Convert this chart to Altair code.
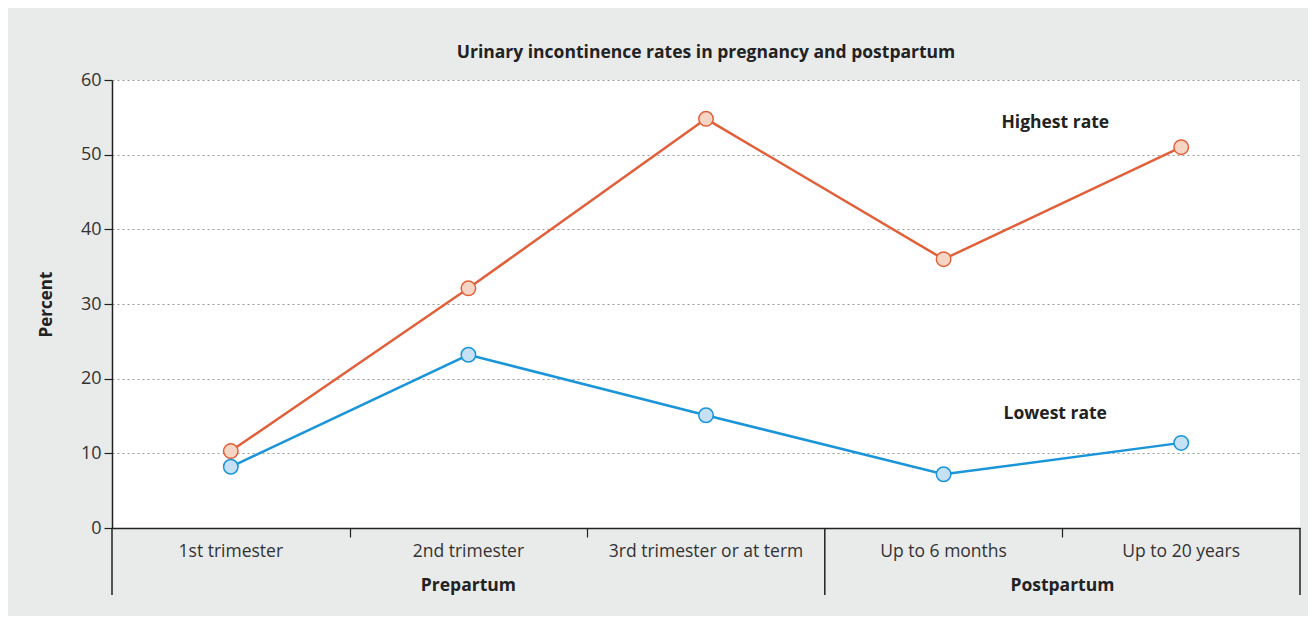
import altair as alt
import pandas as pd

categories = ["1st trimester", "2nd trimester", "3rd trimester or at term", "Up to 6 months", "Up to 20 years"]
highest = [10.3, 32.1, 54.8, 36.0, 51.0]
lowest = [8.2, 23.2, 15.1, 7.2, 11.4]
groups = ["Prepartum", "Postpartum"]
group_pos = [1.5, 4.0]
series_names = ["Highest rate", "Lowest rate"]
annot_x = [3.97, 3.97]
annot_y = [54.2, 15.3]

pos = [i + 0.5 for i in range(len(categories))]
rows = []
for s, vals in zip(series_names, [highest, lowest]):
    for c, p, v in zip(categories, pos, vals):
        rows.append({"series": s, "cat": c, "pos": p, "value": v})
df = pd.DataFrame(rows)
cat_df = pd.DataFrame({"cat": categories, "pos": pos})
grp_df = pd.DataFrame({"grp": groups, "pos": group_pos})
ann_df = pd.DataFrame({"label": series_names, "x": annot_x, "y": annot_y})
long_df = pd.DataFrame({"x": [0, 3, 5]})

FONT = "Open Sans"
W, H = 1188, 448

xs = alt.Scale(domain=[0, 5], nice=False, zero=False)
ys = alt.Scale(domain=[0, 60], nice=False)

line_col = alt.Color("series:N", scale=alt.Scale(domain=series_names, range=["#e1603a", "#1b95d9"]), legend=None)
fill_col = alt.Fill("series:N", scale=alt.Scale(domain=series_names, range=["#f6d5c4", "#c6e0f4"]), legend=None)

base = alt.Chart(df)

lines = base.mark_line(strokeWidth=2.5).encode(
    x=alt.X("pos:Q", scale=xs,
            axis=alt.Axis(values=[1, 2, 4], labels=False, title=None, tickSize=9, tickColor="#222",
                          domainColor="#222", domainWidth=1.5, grid=False, tickWidth=1.2)),
    y=alt.Y("value:Q", scale=ys,
            axis=alt.Axis(values=[0, 10, 20, 30, 40, 50, 60], tickSize=8, tickColor="#222", tickWidth=1.2,
                          domainColor="#222", domainWidth=1.5, labelFontSize=18, labelColor="#333",
                          labelFont=FONT, labelPadding=3,
                          gridColor="#999", gridDash=[2, 3], gridWidth=1,
                          title="Percent", titleFont=FONT, titleFontSize=17, titleFontWeight="bold",
                          titleColor="#222", titleX=-66, titleY=224, titleAngle=-90,
                          titleAlign="center", titleBaseline="middle")),
    color=line_col,
    detail="series:N",
)

points = base.mark_point(filled=False, shape="circle", size=210, strokeWidth=1.5, opacity=1).encode(
    x=alt.X("pos:Q", scale=xs),
    y=alt.Y("value:Q", scale=ys),
    color=line_col,
    fill=fill_col,
)

cat_text = alt.Chart(cat_df).mark_text(font=FONT, fontSize=17.5, color="#333", baseline="middle").encode(
    x=alt.X("pos:Q", scale=xs),
    y=alt.value(H + 24),
    text="cat:N",
)

grp_text = alt.Chart(grp_df).mark_text(font=FONT, fontSize=17.5, fontWeight="bold", color="#222", baseline="middle").encode(
    x=alt.X("pos:Q", scale=xs),
    y=alt.value(H + 58),
    text="grp:N",
)

ann_text = alt.Chart(ann_df).mark_text(font=FONT, fontSize=17.5, fontWeight="bold", color="#222", baseline="middle").encode(
    x=alt.X("x:Q", scale=xs),
    y=alt.Y("y:Q", scale=ys),
    text="label:N",
)

long_rules = alt.Chart(long_df).mark_rule(color="#222", strokeWidth=1.5).encode(
    x=alt.X("x:Q", scale=xs),
    y=alt.value(H),
    y2=alt.value(H + 67),
)

chart = alt.layer(lines, points, long_rules, cat_text, grp_text, ann_text).properties(
    width=W,
    height=H,
    title=alt.Title("Urinary incontinence rates in pregnancy and postpartum", font=FONT, fontSize=17.5,
                    fontWeight="bold", color="#222", anchor="middle", offset=10),
    autosize=alt.AutoSizeParams(type="none"),
    padding={"left": 104, "top": 72, "right": 8, "bottom": 88},
).configure(
    background="#e9eaea",
).configure_view(
    fill="white", stroke=None,
)

chart.save("out.html", embed_options={"renderer": "svg", "actions": False})
